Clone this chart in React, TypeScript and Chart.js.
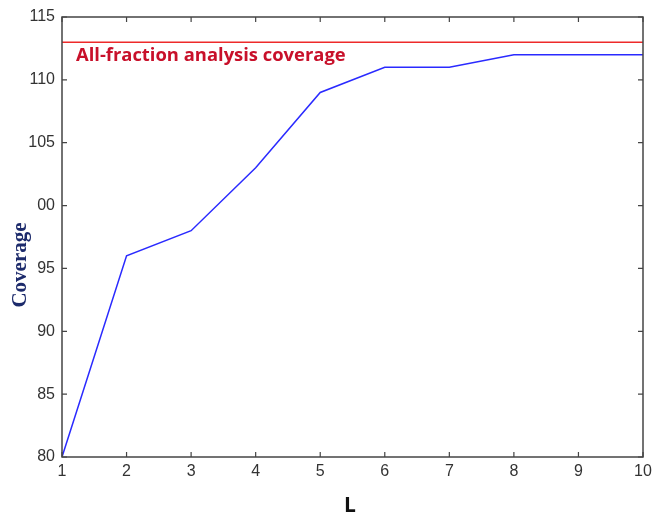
import React, { useEffect, useRef } from "react";
import { Chart, registerables } from "chart.js";

Chart.register(...registerables);

const lValues = [1, 2, 3, 4, 5, 6, 7, 8, 9, 10];
const coverage = [80, 96, 98, 103, 109, 111, 111, 112, 112, 112];
const allFractionCoverage = 113;
const yTicks = [80, 85, 90, 95, 100, 105, 110, 115];
const yTickLabels = ["80", "85", "90", "95", "00", "105", "110", "115"];
const refLabel = "All-fraction analysis coverage";
const xTitle = "L";
const yTitle = "Coverage";

const PLOT_LEFT = 62;
const PLOT_RIGHT = 643;
const PLOT_TOP = 17;
const PLOT_BOTTOM = 457;
const W = 652;
const H = 517;

export default function App() {
  const ref = useRef<HTMLCanvasElement | null>(null);
  useEffect(() => {
    const canvas = ref.current;
    if (!canvas) return;
    const framePlugin = {
      id: "frame",
      afterDraw(chart: any) {
        const { ctx, chartArea: a, scales } = chart;
        ctx.save();
        ctx.strokeStyle = "#444";
        ctx.lineWidth = 1.5;
        ctx.strokeRect(a.left, a.top, a.right - a.left, a.bottom - a.top);
        ctx.lineWidth = 1.2;
        const t = 5;
        lValues.forEach((v) => {
          const x = scales.x.getPixelForValue(v);
          ctx.beginPath();
          ctx.moveTo(x, a.bottom);
          ctx.lineTo(x, a.bottom - t);
          ctx.moveTo(x, a.top);
          ctx.lineTo(x, a.top + t);
          ctx.stroke();
        });
        yTicks.forEach((v) => {
          const y = scales.y.getPixelForValue(v);
          ctx.beginPath();
          ctx.moveTo(a.left, y);
          ctx.lineTo(a.left + t, y);
          ctx.moveTo(a.right, y);
          ctx.lineTo(a.right - t, y);
          ctx.stroke();
        });
        // reference label
        ctx.fillStyle = "#c8102a";
        ctx.font = "bold 18.4px 'Open Sans', 'Liberation Sans', sans-serif";
        ctx.textBaseline = "middle";
        ctx.textAlign = "left";
        ctx.fillText(refLabel, 76, 56);
        // x title
        ctx.fillStyle = "#111";
        ctx.font = "bold 21px 'Open Sans', 'Liberation Sans', sans-serif";
        ctx.textAlign = "center";
        ctx.fillText(xTitle, 350, 506);
        // y title
        ctx.translate(21, 265);
        ctx.rotate(-Math.PI / 2);
        ctx.fillStyle = "#1c2a6b";
        ctx.font = "bold 21px 'Liberation Serif', 'DejaVu Serif', serif";
        ctx.fillText(yTitle, 0, 0);
        ctx.restore();
      },
    };
    const chart = new Chart(canvas, {
      type: "line",
      data: {
        datasets: [
          {
            data: lValues.map((l) => ({ x: l, y: allFractionCoverage })),
            borderColor: "#ee2a2a",
            borderWidth: 1.5,
            pointRadius: 0,
          },
          {
            data: lValues.map((l, i) => ({ x: l, y: coverage[i] })),
            borderColor: "#2a2aff",
            borderWidth: 1.5,
            pointRadius: 0,
            tension: 0,
          },
        ],
      },
      options: {
        responsive: false,
        animation: false,
        devicePixelRatio: 1,
        layout: { padding: { left: 0, top: PLOT_TOP, right: W - PLOT_RIGHT, bottom: 0 } },
        plugins: { legend: { display: false }, tooltip: { enabled: false } },
        scales: {
          x: {
            type: "linear",
            min: 1,
            max: 10,
            border: { display: false },
            grid: { display: false, drawTicks: false },
            afterFit(s: any) {
              s.height = H - PLOT_BOTTOM;
              s.paddingLeft = 0;
              s.paddingRight = 0;
            },
            afterBuildTicks(s: any) {
              s.ticks = lValues.map((v) => ({ value: v }));
            },
            ticks: {
              padding: 5,
              color: "#333",
              font: { family: "'Liberation Sans', Arial, sans-serif", size: 16 },
              maxRotation: 0,
              autoSkip: false,
              callback: (v: any) => String(v),
            },
          },
          y: {
            type: "linear",
            min: 80,
            max: 115,
            border: { display: false },
            grid: { display: false, drawTicks: false },
            afterFit(s: any) {
              s.width = PLOT_LEFT;
              s.paddingTop = 0;
              s.paddingBottom = 0;
            },
            afterBuildTicks(s: any) {
              s.ticks = yTicks.map((v) => ({ value: v }));
            },
            ticks: {
              padding: 7,
              color: "#333",
              font: { family: "'Liberation Sans', Arial, sans-serif", size: 16 },
              autoSkip: false,
              callback: (v: any) => {
                const i = yTicks.indexOf(Number(v));
                return i >= 0 ? yTickLabels[i] : "";
              },
            },
          },
        },
      },
      plugins: [framePlugin],
    });
    return () => chart.destroy();
  }, []);
  return (
    <div style={{ position: "fixed", left: 0, top: 0, width: W, height: H, background: "#fff" }}>
      <canvas ref={ref} width={W} height={H} style={{ width: W, height: H, display: "block" }} />
    </div>
  );
}
